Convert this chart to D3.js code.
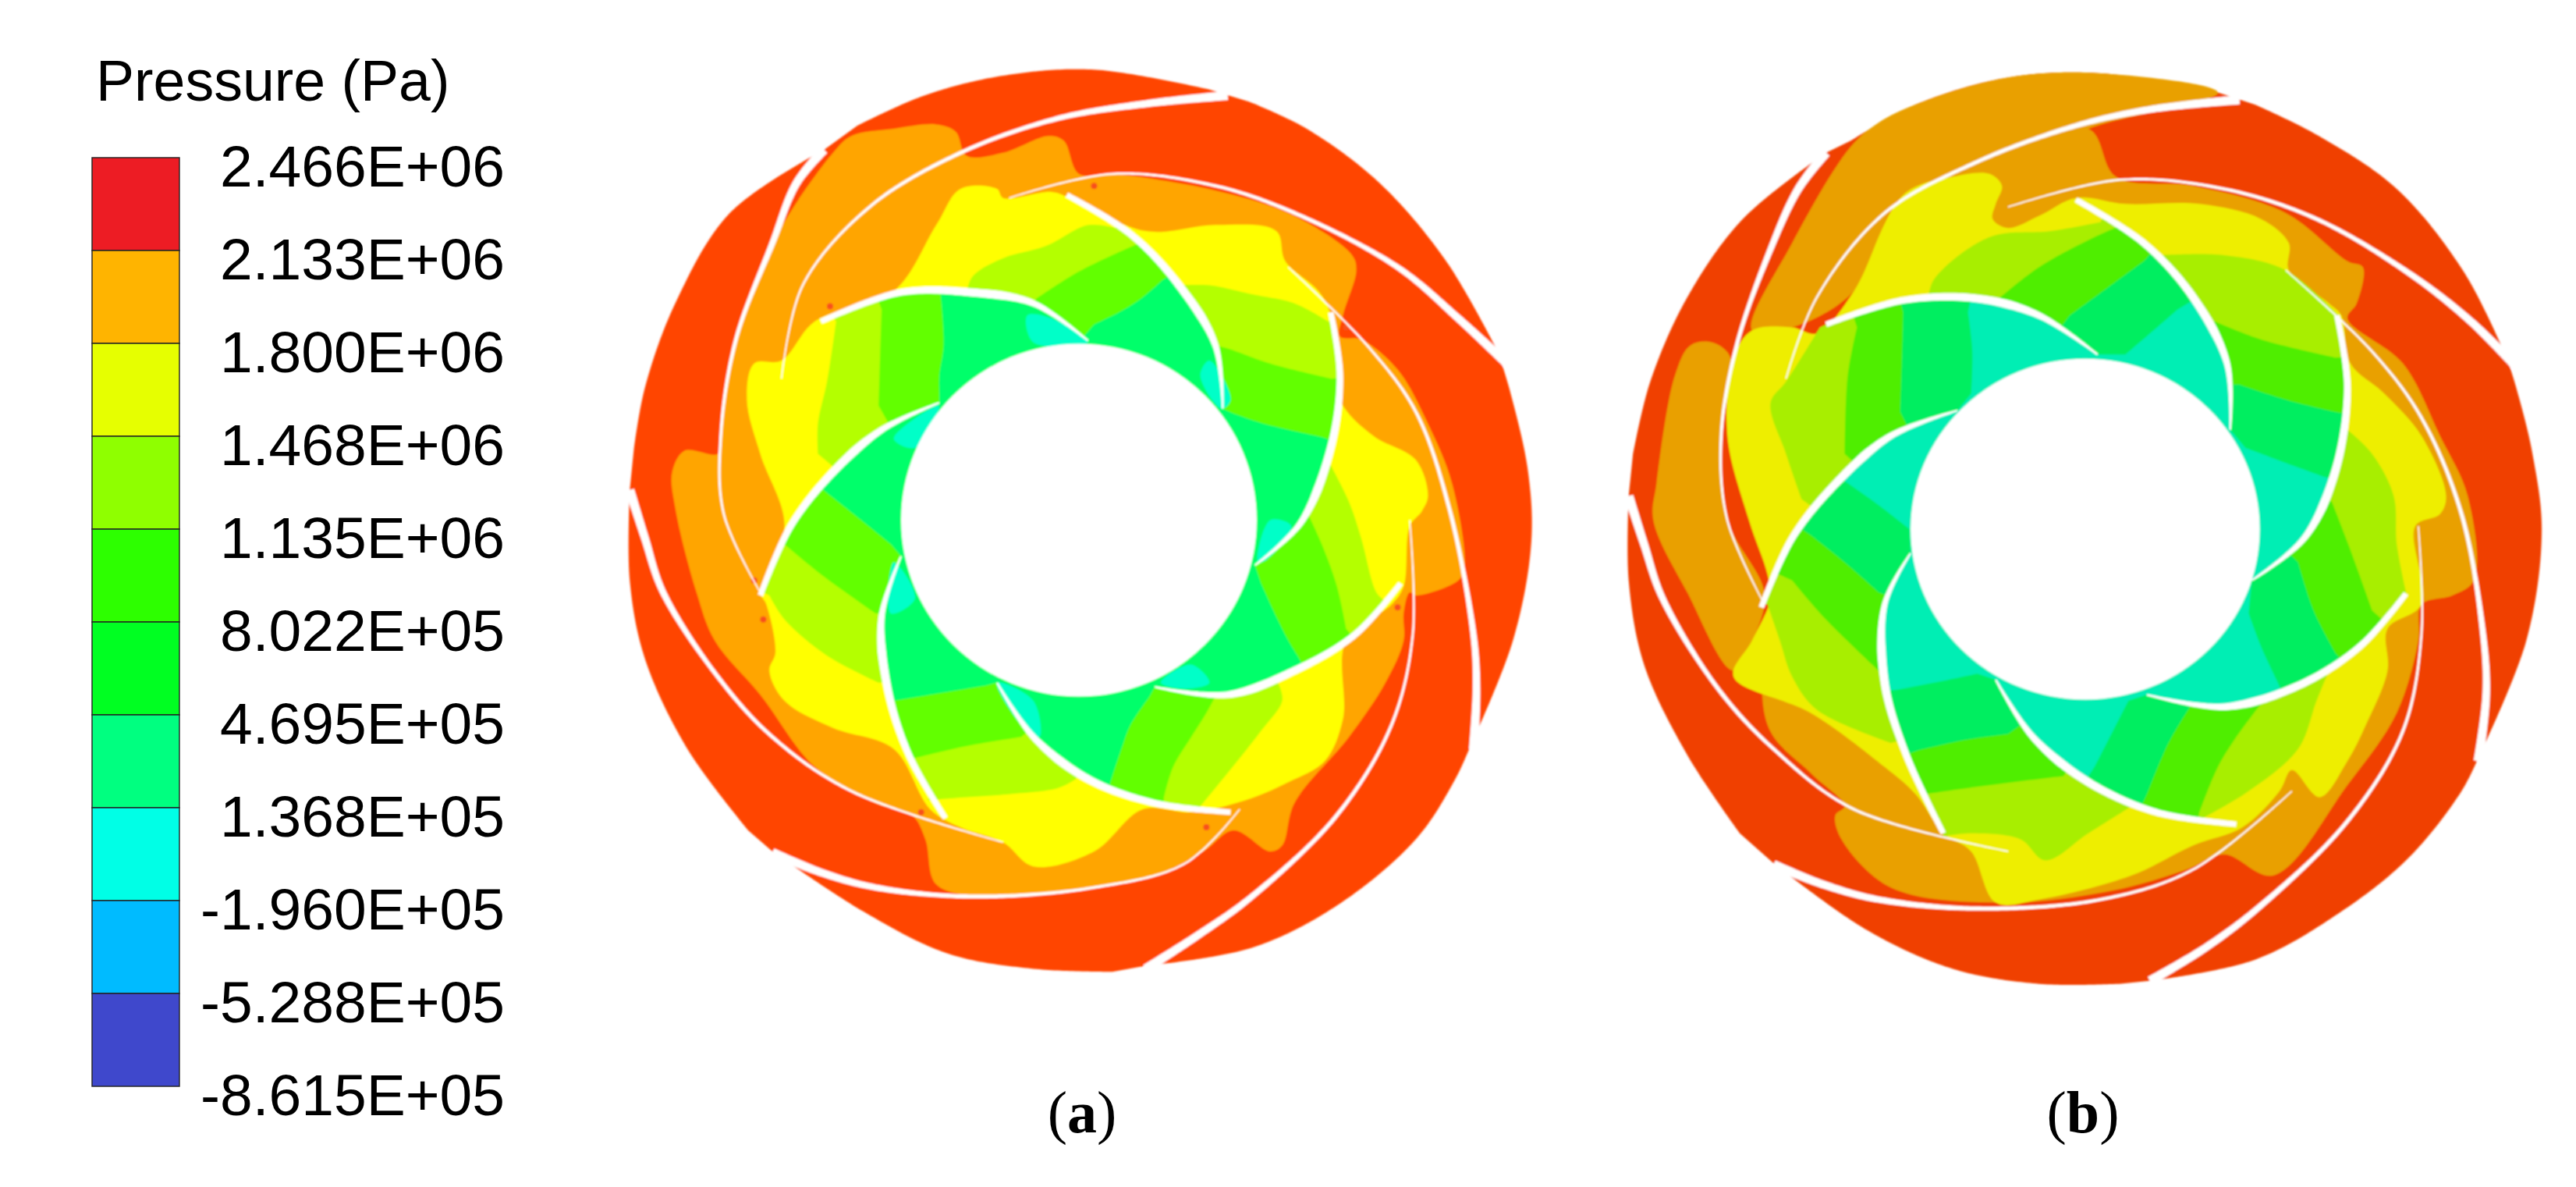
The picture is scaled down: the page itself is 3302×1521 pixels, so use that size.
<!DOCTYPE html>
<html>
<head>
<meta charset="utf-8">
<script src="https://cdn.jsdelivr.net/npm/d3@7"></script>
<style>
html, body { margin: 0; padding: 0; background: #fff; }
svg { display: block; }
</style>
</head>
<body>
<div class="chart"></div>
<script>
// legend
var pressureTicks = ["2.466E+06", "2.133E+06", "1.800E+06", "1.468E+06", "1.135E+06", "8.022E+05",
    "4.695E+05", "1.368E+05", "-1.960E+05", "-5.288E+05", "-8.615E+05"];
var legendColors = ["#ed1c24", "#ffb400", "#e6ff00", "#8fff00", "#2dff00", "#00ff22",
    "#00ff80", "#00ffe6", "#00bbff", "#3f48cc"];

// contour bands, in a 0-1568 frame for each disc
var colorsA = ["#ff4500", "#ffa500", "#ffff00", "#b4ff00", "#62ff00", "#00ff6a", "#00ffc8"];
var colorsB = ["#f04000", "#e9a000", "#eeee00", "#a8ee00", "#50ee00", "#00ee60", "#00eeb4"];

var outerA = [
    [[1055,65],[1150,110],[1270,200],[1380,330],[1465,480]],
    [[1465,480],[1485,545],[1515,680],[1520,800],[1490,960],[1420,1135]],
    [[1420,1135],[1395,1190],[1330,1290],[1200,1400],[1060,1470],[885,1500]],
    [[830,1510],[700,1505],[560,1480],[420,1410],[270,1310]],
    [[230,1275],[130,1140],[60,990],[35,860],[35,710]],
    [[42,640],[60,540],[110,400],[200,250],[355,145]],
    [[410,105],[520,55],[650,22],[800,12],[990,45]]
];
var orangeA = [
    [[775,185],[830,185],[1010,215],[1130,255],[1225,320],[1232,345],[1210,420],[1205,455],[1240,460],[1300,510],
     [1350,600],[1390,700],[1410,840],[1400,860],[1330,885],[1320,880],[1310,915],[1310,960],[1280,1030],[1220,1120],
     [1130,1230],[1110,1300],[1090,1310],[1030,1275],[980,1310],[900,1350],[750,1375],[620,1385],[540,1365],[522,1290],
     [500,1250],[440,1230],[340,1170],[250,1050],[175,960],[145,880],[110,740],[105,680],[125,645],[180,650],
     [185,620],[210,460],[270,300],[370,150],[400,122],[470,110],[540,103],[572,115],[590,155],[650,150],
     [725,122],[750,130]]
];
var yellowA = [[650,225],[730,215],[760,225],[885,280],[1000,270],[1100,280],[1115,330],[1170,380],[1190,420],[1205,560],
    [1260,620],[1330,660],[1350,720],[1340,745],[1320,770],[1310,870],[1290,900],[1215,960],[1210,1090],[1180,1160],
    [1120,1195],[1050,1225],[960,1245],[880,1240],[800,1310],[700,1335],[650,1295],[580,1270],[530,1240],[470,1140],
    [370,1105],[290,1060],[265,1010],[275,980],[260,900],[250,880],[290,770],[250,650],[228,560],[240,500],
    [285,495],[340,430],[470,380],[540,270],[580,210],[640,210]];
var limeA = [
    [[590,382],[600,355],[650,325],[720,305],[790,270],[835,275]],
    [[945,370],[990,370],[1060,385],[1130,400],[1185,430]],
    [[1185,660],[1220,730],[1240,790],[1265,880],[1280,895]],
    [[1105,1035],[1110,1060],[1075,1110],[1020,1180],[975,1235]],
    [[770,1190],[740,1205],[660,1215],[590,1220],[525,1225]],
    [[445,1030],[360,985],[290,925],[265,885]],
    [[345,650],[345,600],[360,530],[375,430]]
];
var greenA = [
    [[705,392],[770,350],[830,320],[875,300]],
    [[1000,470],[1020,475],[1090,500],[1190,525]],
    [[1150,745],[1175,800],[1200,870],[1215,940]],
    [[1000,1052],[985,1080],[960,1120],[930,1170],[915,1220]],
    [[680,1120],[590,1135],[505,1155]],
    [[440,915],[350,850],[290,800]],
    [[445,570],[448,470],[450,410]]
];
var springA = [
    [[800,435],[850,410],[880,390],[912,362]],
    [[1030,583],[1080,600],[1175,622]],
    [[1075,865],[1100,920],[1120,960],[1135,985]],
    [[890,1055],[860,1100],[845,1140],[830,1185]],
    [[620,1035],[530,1050],[470,1060]],
    [[465,800],[410,755],[360,715]],
    [[545,550],[545,520],[552,470],[548,395]]
];
var cyanPatchesA = [
    [[690,420],[730,425],[790,465],[700,465]],
    [[975,520],[990,495],[1025,560],[1010,575]],
    [[1070,830],[1090,760],[1125,770],[1085,825]],
    [[910,1030],[960,1000],[990,1030],[950,1040]],
    [[640,1030],[700,1060],[710,1120],[680,1100]],
    [[470,830],[505,890],[465,915]],
    [[470,625],[530,575],[545,570],[505,640]]
];
var spotsA = [[240,860],[365,405],[800,205],[1215,440],[1300,905],[515,1245],[985,1270],[255,925]];
var holeA = [775, 760, 293];
var bladesA = [
    [[790,462],[700,400],[600,382],[480,382],[350,430]],
    [[1012,575],[1000,470],[940,370],[860,285],[755,220]],
    [[1065,835],[1140,765],[1190,640],[1205,520],[1190,415]],
    [[900,1037],[1020,1050],[1130,1010],[1230,950],[1305,865]],
    [[640,1030],[700,1120],[790,1190],[900,1230],[1025,1245]],
    [[482,820],[450,920],[460,1040],[495,1150],[555,1255]],
    [[545,565],[450,610],[370,680],[300,770],[250,885]]
];
var vanesA = [
    [[1020,55],[890,68],[740,93],[580,150],[430,240],[320,370],[285,525]],
    [[1480,500],[1400,425],[1300,340],[1130,250],[1000,205],[830,185],[660,225]],
    [[1425,1140],[1430,1040],[1425,950],[1385,740],[1330,580],[1250,470],[1120,340]],
    [[885,1505],[970,1450],[1060,1385],[1200,1250],[1290,1100],[1325,950],[1320,760]],
    [[270,1312],[350,1345],[440,1370],[600,1385],[800,1370],[950,1330],[1040,1240]],
    [[35,710],[60,790],[90,880],[180,1020],[270,1120],[400,1210],[650,1295]],
    [[355,145],[310,200],[270,300],[210,460],[185,620],[190,750],[250,880]]
];

var outerB = [
    [[1050,70],[1150,120],[1280,210],[1390,350],[1460,495]],
    [[1460,495],[1475,545],[1500,650],[1515,780],[1490,960],[1412,1155]],
    [[1412,1155],[1385,1210],[1300,1320],[1190,1410],[1050,1490],[880,1525]],
    [[830,1530],[700,1530],[560,1505],[420,1440],[270,1330]],
    [[215,1280],[130,1150],[60,1000],[35,860],[35,720]],
    [[42,650],[70,530],[130,390],[220,260],[355,150]],
    [[395,130],[500,70],[650,25],[800,18],[990,50]]
];
var orangeB = [
    [[990,50],[800,18],[650,25],[500,70],[440,100],[395,140],[300,300],[235,445],[300,440],[400,380],[480,220],[620,185],[780,110]],
    [[135,470],[170,465],[200,490],[185,620],[195,760],[255,880],[240,950],[205,1010],[130,880],[75,760],[80,700],[110,520]],
    [[600,165],[780,110],[825,190],[950,205],[1100,250],[1200,330],[1225,340],[1215,400],[1200,425],[1290,500],[1350,620],
     [1395,720],[1405,860],[1370,885],[1320,900],[1315,960],[1280,1080],[1200,1200],[1080,1350],[1000,1315],[940,1340],
     [820,1375],[640,1395],[460,1370],[380,1290],[370,1250],[385,1235],[330,1180],[260,1100],[270,900],[400,600],[500,300]]
];
var yellowB = [[620,185],[640,205],[630,235],[625,260],[650,275],[700,255],[760,225],[840,235],[960,235],[1060,260],
    [1105,300],[1105,345],[1170,400],[1190,420],[1205,500],[1260,550],[1320,620],[1360,720],[1350,750],[1310,770],
    [1320,900],[1265,940],[1265,1010],[1230,1100],[1200,1160],[1155,1220],[1110,1175],[1090,1210],[1030,1270],[950,1300],
    [850,1350],[700,1390],[630,1395],[590,1310],[545,1280],[500,1215],[450,1170],[330,1080],[205,1020],[235,960],
    [265,890],[260,850],[230,760],[195,620],[205,490],[235,445],[300,440],[340,450],[400,380],[480,220],[560,190]];
var limeB = [
    [[520,395],[530,360],[620,290],[720,280],[800,265]],
    [[900,320],[1000,320],[1100,345],[1185,420]],
    [[1200,610],[1240,650],[1275,720],[1280,800],[1295,880]],
    [[1170,1010],[1150,1060],[1120,1140],[1040,1210],[965,1255]],
    [[850,1235],[780,1280],[710,1325],[670,1290],[590,1280],[545,1285]],
    [[460,1130],[340,1075],[300,1020],[280,960],[260,900]],
    [[315,725],[290,650],[265,565],[290,530],[345,440]]
];
var greenB = [
    [[635,392],[700,340],[790,290],[835,270]],
    [[985,430],[1060,460],[1180,490]],
    [[1175,730],[1205,810],[1240,910]],
    [[1060,1065],[1020,1120],[990,1170],[960,1245]],
    [[740,1185],[620,1200],[515,1215]],
    [[440,1010],[350,920],[300,860]],
    [[385,650],[390,520],[405,440]]
];
var springB = [
    [[750,420],[810,375],[870,330]],
    [[1025,535],[1100,560],[1178,580]],
    [[1120,830],[1145,910],[1180,980]],
    [[945,1070],[910,1130],[875,1215]],
    [[650,1115],[580,1125],[505,1142]],
    [[440,880],[385,830],[330,785]],
    [[475,580],[478,490],[480,415]]
];
var cyanB = [
    [[840,485],[880,450],[925,410]],
    [[1035,640],[1100,665],[1162,688]],
    [[1040,915],[1060,970],[1085,1025]],
    [[845,1060],[820,1110],[790,1170]],
    [[600,1015],[530,1030],[468,1042]],
    [[490,775],[440,735],[385,695]],
    [[590,550],[592,480],[585,415]]
];
var holeB = [775, 775, 283];
var bladesB = [
    [[795,485],[700,420],[600,392],[480,395],[355,435]],
    [[1010,610],[1005,500],[950,390],[870,300],[760,228]],
    [[1045,860],[1130,790],[1180,680],[1200,540],[1183,420]],
    [[875,1050],[1000,1070],[1120,1035],[1220,970],[1295,882]],
    [[630,1025],[690,1120],[780,1195],[890,1245],[1020,1265]],
    [[492,815],[450,900],[450,1030],[485,1150],[545,1280]],
    [[568,578],[460,620],[370,700],[300,790],[250,905]]
];
var vanesB = [
    [[1025,62],[880,78],[760,105],[600,165],[450,250],[340,390],[290,525]],
    [[1478,510],[1400,430],[1300,350],[1150,260],[1000,210],[830,195],[650,240]],
    [[1412,1160],[1425,1050],[1420,950],[1385,750],[1320,590],[1240,480],[1100,345]],
    [[880,1525],[970,1470],[1060,1400],[1200,1260],[1290,1110],[1320,950],[1315,770]],
    [[270,1332],[350,1365],[440,1390],[600,1405],[800,1390],[950,1340],[1110,1210]],
    [[35,720],[60,800],[90,890],[180,1040],[270,1140],[400,1240],[650,1310]],
    [[355,150],[310,210],[265,310],[210,470],[185,620],[195,760],[255,900]]
];

var svg = d3.select(".chart").append("svg")
    .attr("width", 3302)
    .attr("height", 1521)
    .style("font-family", "'Liberation Sans', Arial, sans-serif");

svg.append("defs").append("filter").attr("id", "soft")
    .append("feGaussianBlur").attr("stdDeviation", 1.1);

// sample a smooth curve through the traced points
var measure = svg.append("path").attr("fill", "none");
var openCurve = d3.line().curve(d3.curveCatmullRom.alpha(0.5));
function dense(points) {
    measure.attr("d", openCurve(points));
    var node = measure.node(), len = node.getTotalLength(), out = [];
    for (var l = 0; l < len; l += 5) {
        var p = node.getPointAtLength(l);
        out.push([p.x, p.y]);
    }
    var end = node.getPointAtLength(len);
    out.push([end.x, end.y]);
    return out;
}

function nearest(line, p) {
    var best = 0, bestD = Infinity;
    line.forEach(function(q, i) {
        var d = (q[0] - p[0]) * (q[0] - p[0]) + (q[1] - p[1]) * (q[1] - p[1]);
        if (d < bestD) { bestD = d; best = i; }
    });
    return best;
}

// closed band: each passage section, then along the next blade to the next section
function ringPoints(sections, blades) {
    var out = [];
    sections.forEach(function(sec, i) {
        var next = (i + 1) % sections.length;
        var blade = dense(blades[next]);
        var a = nearest(blade, sec[sec.length - 1]);
        var b = nearest(blade, sections[next][0]);
        var piece = a < b ? blade.slice(a, b + 1) : blade.slice(b, a + 1).reverse();
        out = out.concat(dense(sec), piece);
    });
    return out;
}

// tapered white strip along a centre line
function ribbon(points, widths) {
    var line = dense(points);
    var w = d3.scaleLinear().domain([0, 0.35, 1]).range(widths);
    var left = [], right = [];
    line.forEach(function(p, i) {
        var a = line[Math.max(i - 1, 0)], b = line[Math.min(i + 1, line.length - 1)];
        var dx = b[0] - a[0], dy = b[1] - a[1], n = Math.sqrt(dx * dx + dy * dy) || 1;
        var h = w(i / (line.length - 1)) / 2;
        left.push([p[0] - dy / n * h, p[1] + dx / n * h]);
        right.push([p[0] + dy / n * h, p[1] - dx / n * h]);
    });
    return left.concat(right.reverse());
}

function drawDisc(g, x, y, d) {
    var linear = d3.line().x(function(p) { return x(p[0]); }).y(function(p) { return y(p[1]); });
    var smooth = d3.line().x(function(p) { return x(p[0]); }).y(function(p) { return y(p[1]); })
        .curve(d3.curveCatmullRomClosed.alpha(0.5));

    var outer = [];
    d.outer.forEach(function(arc) { outer = outer.concat(dense(arc)); });
    g.append("path").attr("d", linear(outer) + "Z").attr("fill", d.colors[0]);

    g.selectAll("path.orange").data(d.orange).enter().append("path")
        .attr("class", "orange")
        .attr("d", smooth)
        .attr("fill", d.colors[1]);

    g.append("path").attr("d", smooth(d.yellow)).attr("fill", d.colors[2]);

    [d.lime, d.green, d.spring].forEach(function(band, i) {
        g.append("path")
            .attr("d", linear(ringPoints(band, d.blades)) + "Z")
            .attr("fill", d.colors[3 + i]);
    });

    if (d.cyanRing) {
        g.append("path").attr("d", linear(ringPoints(d.cyanRing, d.blades)) + "Z").attr("fill", d.colors[6]);
    }
    g.selectAll("path.cyan").data(d.cyanPatches || []).enter().append("path")
        .attr("class", "cyan")
        .attr("d", smooth)
        .attr("fill", d.colors[6]);

    g.selectAll("circle.spot").data(d.spots || []).enter().append("circle")
        .attr("class", "spot")
        .attr("cx", function(p) { return x(p[0]); })
        .attr("cy", function(p) { return y(p[1]); })
        .attr("r", 4)
        .attr("fill", "#f8501a");

    g.append("ellipse")
        .attr("cx", x(d.hole[0])).attr("cy", y(d.hole[1]))
        .attr("rx", x(d.hole[2]) - x(0)).attr("ry", y(d.hole[2]) - y(0))
        .attr("fill", "#fff");

    g.selectAll("path.vane").data(d.vanes).enter().append("path")
        .attr("class", "vane")
        .attr("d", function(v) { return linear(ribbon(v, [15, 7, 2])) + "Z"; })
        .attr("fill", "#fff");

    g.selectAll("path.blade").data(d.blades).enter().append("path")
        .attr("class", "blade")
        .attr("d", function(b) { return linear(ribbon(b, [3, 14, 9])) + "Z"; })
        .attr("fill", "#fff");
}

var frame = [0, 1568];
var yDisc = d3.scaleLinear().domain(frame).range([80, 1290]);

drawDisc(svg.append("g").attr("filter", "url(#soft)"),
    d3.scaleLinear().domain(frame).range([780, 2000]), yDisc,
    { colors: colorsA, outer: outerA, orange: orangeA, yellow: yellowA, lime: limeA, green: greenA, spring: springA,
      cyanPatches: cyanPatchesA, spots: spotsA, hole: holeA, blades: bladesA, vanes: vanesA });

drawDisc(svg.append("g").attr("filter", "url(#soft)"),
    d3.scaleLinear().domain(frame).range([2060, 3300]), yDisc,
    { colors: colorsB, outer: outerB, orange: orangeB, yellow: yellowB, lime: limeB, green: greenB, spring: springB,
      cyanRing: cyanB, hole: holeB, blades: bladesB, vanes: vanesB });

// legend
var yLegend = d3.scaleLinear().domain([0, legendColors.length]).range([202, 1392]);

svg.append("text")
    .attr("x", 123).attr("y", 129)
    .attr("font-size", 73.5)
    .attr("fill", "#000")
    .text("Pressure (Pa)");

svg.selectAll("rect.cell").data(legendColors).enter().append("rect")
    .attr("class", "cell")
    .attr("x", 118).attr("width", 112)
    .attr("y", function(d, i) { return yLegend(i); })
    .attr("height", function(d, i) { return yLegend(i + 1) - yLegend(i); })
    .attr("fill", function(d) { return d; })
    .attr("stroke", "#222")
    .attr("stroke-width", 1.4);

svg.selectAll("text.tick").data(pressureTicks).enter().append("text")
    .attr("class", "tick")
    .attr("x", 647)
    .attr("y", function(d, i) { return yLegend(i) + 37; })
    .attr("text-anchor", "end")
    .attr("font-size", 75)
    .attr("fill", "#000")
    .text(function(d) { return d; });

// panel captions
[["a", 1387], ["b", 2670]].forEach(function(c) {
    var t = svg.append("text")
        .attr("x", c[1]).attr("y", 1451)
        .attr("text-anchor", "middle")
        .attr("font-family", "'Liberation Serif', serif")
        .attr("font-size", 76)
        .attr("fill", "#000");
    t.append("tspan").text("(");
    t.append("tspan").attr("font-weight", "bold").text(c[0]);
    t.append("tspan").text(")");
});

measure.remove();
</script>
</body>
</html>
